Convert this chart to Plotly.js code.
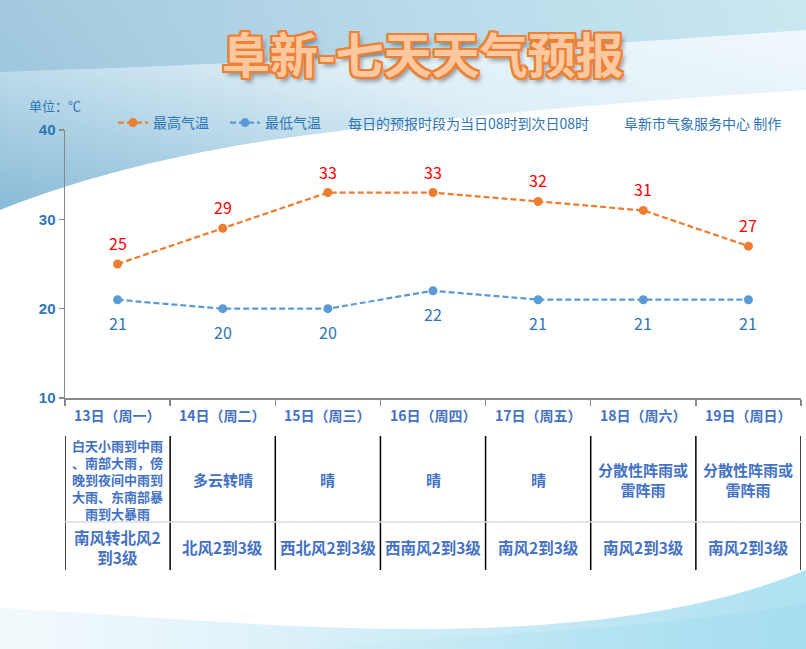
<!DOCTYPE html>
<html>
<head>
<meta charset="utf-8">
<script src="https://cdn.plot.ly/plotly-3.0.1.min.js"></script>
<style>
  html, body { margin: 0; padding: 0; background: #ffffff; overflow: hidden; }
  #wrap { position: relative; width: 806px; height: 649px; }
  #bg { position: absolute; left: 0; top: 0; }
  #chart { position: absolute; left: 0; top: 0; width: 806px; height: 649px; }
</style>
</head>
<body>
<div id="wrap">
  <!-- decorative sky swooshes behind the chart -->
  <svg id="bg" width="806" height="649" xmlns="http://www.w3.org/2000/svg">
    <defs>
      <linearGradient id="skyLow" x1="0" y1="1" x2="1" y2="0">
        <stop offset="0" stop-color="#88BAD6"/>
        <stop offset="0.3" stop-color="#B6D7E8"/>
        <stop offset="0.55" stop-color="#DFEFF7"/>
        <stop offset="1" stop-color="#F3FAFD"/>
      </linearGradient>
      <linearGradient id="skyHigh" x1="0" y1="0" x2="1" y2="0">
        <stop offset="0" stop-color="#99C3DA"/>
        <stop offset="0.5" stop-color="#AFD5E7"/>
        <stop offset="1" stop-color="#C3E4EF"/>
      </linearGradient>
      <linearGradient id="wave1" x1="0" y1="0" x2="1" y2="0">
        <stop offset="0" stop-color="#E6F4FA" stop-opacity="0.5"/>
        <stop offset="0.45" stop-color="#D3EEF7"/>
        <stop offset="1" stop-color="#AEE1F1"/>
      </linearGradient>
      <linearGradient id="wave2" x1="0" y1="0" x2="1" y2="0">
        <stop offset="0" stop-color="#B5E4F3" stop-opacity="0"/>
        <stop offset="1" stop-color="#A3DCEE" stop-opacity="0.8"/>
      </linearGradient>
    </defs>
    <path d="M0,0 H806 V90 C650,100 450,116 300,136 C180,152 80,178 0,210 Z" fill="url(#skyLow)"/>
    <path d="M0,0 H806 V30 C600,45 350,60 0,72 Z" fill="url(#skyHigh)" opacity="0.85"/>
    <path d="M0,608 C120,614 250,627 400,629 C560,630 700,614 806,570 V649 H0 Z" fill="url(#wave1)"/>
    <path d="M280,649 C450,636 650,630 806,603 V649 Z" fill="url(#wave2)"/>
  </svg>
  <div id="chart"></div>
</div>
<script>
// Seven-day forecast for Fuxin
const days = ['13日（周一）', '14日（周二）', '15日（周三）', '16日（周四）', '17日（周五）', '18日（周六）', '19日（周日）'];
const tempHigh = [25, 29, 33, 33, 32, 31, 27];
const tempLow = [21, 20, 20, 22, 21, 21, 21];
const weather = [
  '白天小雨到中雨<br>、南部大雨，傍<br>晚到夜间中雨到<br>大雨、东南部暴<br>雨到大暴雨',
  '多云转晴',
  '晴',
  '晴',
  '晴',
  '分散性阵雨或<br>雷阵雨',
  '分散性阵雨或<br>雷阵雨'
];
const wind = ['南风转北风2<br>到3级', '北风2到3级', '西北风2到3级', '西南风2到3级', '南风2到3级', '南风2到3级', '南风2到3级'];
const yTicks = [10, 20, 30, 40];

const CJK = '"Noto Sans CJK SC", "Noto Sans", sans-serif';
const BLUE_TXT = '#2E75B6';
const TABLE_TXT = '#4472C4';
const ORANGE = '#ED7D31';
const LBLUE = '#5B9BD5';

// plot area in pixels: x 65..801, y 130..398
const M = { l: 65, r: 5, t: 130, b: 251 };
const plotH = 649 - M.t - M.b;
const plotW = 806 - M.l - M.r;
const py = p => (M.t + plotH - p) / plotH;   // page y -> paper y
const px = p => (p - M.l) / plotW;           // page x -> paper x

const traces = [
  {
    x: days, y: tempHigh, name: '最高气温', type: 'scatter', mode: 'lines+markers',
    line: { color: ORANGE, width: 2.25, dash: '6px,3px' },
    marker: { color: ORANGE, size: 9 },
    hoverinfo: 'skip'
  },
  {
    x: days, y: tempLow, name: '最低气温', type: 'scatter', mode: 'lines+markers',
    line: { color: LBLUE, width: 2.25, dash: '6px,3px' },
    marker: { color: LBLUE, size: 9 },
    hoverinfo: 'skip'
  }
];

const annotations = [];
const shapes = [];

// heading
annotations.push({
  xref: 'paper', yref: 'paper', x: px(423), y: py(52), xanchor: 'center', yanchor: 'middle',
  showarrow: false, text: '阜新-七天天气预报',
  font: {
    family: CJK, size: 48, weight: 700, color: '#FCC8A0',
    shadow: '2px 0 0 #EE8034, -2px 0 0 #EE8034, 0 2px 0 #EE8034, 0 -2px 0 #EE8034, 2px 2px 0 #EE8034, -2px -2px 0 #EE8034, 2px -2px 0 #EE8034, -2px 2px 0 #EE8034, 3px 4px 5px rgba(0,0,0,0.45)'
  }
});

// unit, notes and credit
annotations.push({
  xref: 'paper', yref: 'paper', x: px(27), y: py(106), xanchor: 'left', yanchor: 'middle',
  showarrow: false, text: '单位：℃', font: { family: CJK, size: 13, color: BLUE_TXT }
});
annotations.push({
  xref: 'paper', yref: 'paper', x: px(346), y: py(123), xanchor: 'left', yanchor: 'middle',
  showarrow: false, text: '每日的预报时段为当日08时到次日08时', font: { family: CJK, size: 14, color: BLUE_TXT }
});
annotations.push({
  xref: 'paper', yref: 'paper', x: px(622), y: py(123), xanchor: 'left', yanchor: 'middle',
  showarrow: false, text: '阜新市气象服务中心 制作', font: { family: CJK, size: 14, color: BLUE_TXT }
});

// value labels
days.forEach((d, i) => {
  annotations.push({
    x: d, y: tempHigh[i], xref: 'x', yref: 'y', yshift: 21, showarrow: false,
    text: String(tempHigh[i]), font: { family: CJK, size: 16, color: '#FF0000' }
  });
  annotations.push({
    x: d, y: tempLow[i], xref: 'x', yref: 'y', yshift: -23, showarrow: false,
    text: String(tempLow[i]), font: { family: CJK, size: 16, color: BLUE_TXT }
  });
});

// forecast table under the chart
days.forEach((d, i) => {
  annotations.push({
    x: i, xref: 'x', yref: 'paper', y: py(415), yanchor: 'middle', showarrow: false,
    text: d, font: { family: CJK, size: 14, weight: 700, color: TABLE_TXT }
  });
  annotations.push({
    x: i, xref: 'x', yref: 'paper', y: py(479), yanchor: 'middle', showarrow: false, align: 'center',
    text: weather[i], font: { family: CJK, size: i === 0 ? 13 : 15, weight: 700, color: TABLE_TXT }
  });
  annotations.push({
    x: i, xref: 'x', yref: 'paper', y: py(547), yanchor: 'middle', showarrow: false, align: 'center',
    text: wind[i], font: { family: CJK, size: 15.5, weight: 700, color: TABLE_TXT }
  });
});

for (let k = 0; k <= days.length; k++) {
  shapes.push({
    type: 'line', xref: 'x', yref: 'paper', x0: k - 0.5, x1: k - 0.5, y0: py(436), y1: py(570),
    line: { color: '#000000', width: 1.5 }
  });
}
shapes.push({
  type: 'line', xref: 'x', yref: 'paper', x0: -0.5, x1: days.length - 0.5, y0: py(522), y1: py(522),
  line: { color: '#DDDDDD', width: 1.5 }
});

const layout = {
  width: 806, height: 649,
  margin: M,
  paper_bgcolor: 'rgba(0,0,0,0)',
  plot_bgcolor: 'rgba(0,0,0,0)',
  showlegend: true,
  legend: {
    orientation: 'h', x: px(113), y: py(123), xanchor: 'left', yanchor: 'middle',
    entrywidth: 67, entrywidthmode: 'pixels',
    font: { family: CJK, size: 14, color: BLUE_TXT }, bgcolor: 'rgba(0,0,0,0)'
  },
  xaxis: {
    type: 'category', range: [-0.5, days.length - 0.5],
    showline: true, linecolor: '#888888', linewidth: 1.5,
    ticks: 'outside', tickson: 'boundaries', ticklen: 6, tickcolor: '#888888', tickwidth: 1.5,
    showticklabels: false, showgrid: false, zeroline: false, fixedrange: true
  },
  yaxis: {
    range: [10, 40], tickvals: yTicks, ticktext: yTicks.map(String),
    showline: true, linecolor: '#888888', linewidth: 1.5,
    ticks: 'outside', ticklen: 5, tickcolor: '#888888', tickwidth: 1.5,
    tickfont: { family: '"Liberation Sans", Arial, sans-serif', size: 15, weight: 700, color: BLUE_TXT },
    showgrid: false, zeroline: false, fixedrange: true
  },
  annotations: annotations,
  shapes: shapes
};

Plotly.newPlot('chart', traces, layout, { displayModeBar: false, staticPlot: true });
</script>
</body>
</html>
